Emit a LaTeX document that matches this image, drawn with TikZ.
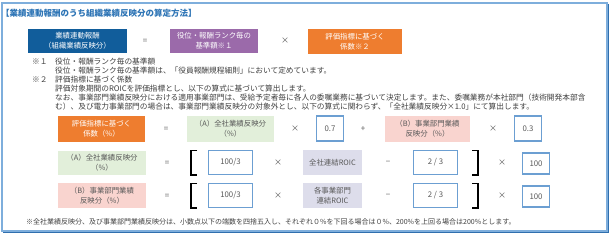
\documentclass[tikz,border=0pt]{standalone}
\usepackage{fontspec}
\setmainfont{Noto Sans CJK JP}
\definecolor{cdblue}{HTML}{115D9B}
\definecolor{cpurple}{HTML}{9B6AAA}
\definecolor{corange}{HTML}{EE7D2F}
\definecolor{cgreen}{HTML}{E2EFDA}
\definecolor{cpink}{HTML}{F9D4CF}
\definecolor{clav}{HTML}{DDDDEB}
\definecolor{cline}{HTML}{6C9FD2}
\definecolor{cborder}{HTML}{7EAEDC}
\definecolor{cshadow}{HTML}{2F6FAE}
\definecolor{ctitle}{HTML}{2E75B6}
\definecolor{ctext}{HTML}{404040}
\definecolor{cgray}{HTML}{595959}
\tikzset{
  bx/.style={rectangle, inner sep=0pt, align=center, font=\fontsize{7.4}{10}\selectfont, text=cgray},
  dark/.style={bx, fill=cdblue, text=white},
  purp/.style={bx, fill=cpurple, text=white},
  oran/.style={bx, fill=corange, text=white},
  grn/.style={bx, fill=cgreen},
  pnk/.style={bx, fill=cpink},
  lav/.style={bx, fill=clav},
  wbox/.style={bx, draw=cline, line width=1.1pt, fill=white, font=\fontsize{7.8}{10}\selectfont},
  op/.style={inner sep=0pt, text=cgray, font=\fontsize{8}{10}\selectfont},
  note/.style={inner sep=0pt, anchor=west, text=ctext, font=\fontsize{7.7}{9}\selectfont},
  brk/.style={draw=black, line width=1.3pt},
}
\begin{document}
\begin{tikzpicture}[x=1pt,y=-1pt]
\fill[white] (0,0) rectangle (610,234);
\useasboundingbox (0,0) rectangle (610,234);
% outer frame
\draw[cshadow, line width=1pt] (608,4) -- (608,232) -- (3,232);
\draw[cborder, line width=1.2pt] (2,3) rectangle (607,231);
% title
\node[inner sep=0pt, anchor=west, text=ctitle, font=\fontsize{8.5}{10}\selectfont\bfseries] (title) at (1,13) {【業績連動報酬のうち組織業績反映分の算定方法】};
% top row
\node[dark, minimum width=99pt, minimum height=24pt] (b1) at (77.5,41) {業績連動報酬\\（組織業績反映分）};
\node[op] (e0) at (145,41) {=};
\node[purp, minimum width=88pt, minimum height=24pt] (b2) at (214,41) {役位・報酬ランク毎の\\基準額※１};
\node[op] (m0) at (285,41) {×};
\node[oran, minimum width=94pt, minimum height=25pt] (b3) at (355,41.5) {評価指標に基づく\\係数※２};
% notes
\node[note] (n1a) at (32,62) {※１};
\node[note] (n1) at (55,62) {役位・報酬ランク毎の基準額};
\node[note] (n2) at (55,71) {役位・報酬ランク毎の基準額は、「役員報酬規程細則」において定めています。};
\node[note] (n3a) at (32,80) {※２};
\node[note] (n3) at (55,80) {評価指標に基づく係数};
\node[note] (n4) at (55,88.5) {評価対象期間のROICを評価指標とし、以下の算式に基づいて算出します。};
\node[note] (n5) at (55,97.5) {なお、事業部門業績反映分における適用事業部門は、受給予定者毎に各人の委嘱業務に基づいて決定します。また、委嘱業務が本社部門（技術開発本部含};
\node[note] (n6) at (55,106.5) {む）、及び電力事業部門の場合は、事業部門業績反映分の対象外とし、以下の算式に関わらず、「全社業績反映分×1.0」にて算出します。};
% row 1
\node[oran, minimum width=87pt, minimum height=26pt] (r1a) at (101.5,129) {評価指標に基づく\\係数（\%）};
\node[op] (r1e) at (166,129) {=};
\node[grn, minimum width=87pt, minimum height=26pt] (r1b) at (230.5,129) {（A）全社業績反映分\\（\%）};
\node[op] (r1m1) at (295,129) {×};
\node[wbox, minimum width=27pt, minimum height=25pt] (r1c) at (330,128.5) {0.7};
\node[op] (r1p) at (363,129) {+};
\node[pnk, minimum width=85pt, minimum height=26pt] (r1d) at (427.5,129) {（B）事業部門業績\\反映分（\%）};
\node[op] (r1m2) at (493,129) {×};
\node[wbox, minimum width=27pt, minimum height=25pt] (r1f) at (528,128.5) {0.3};
% row 2
\node[grn, minimum width=88pt, minimum height=24pt] (r2a) at (102,163) {（A）全社業績反映分\\（\%）};
\node[op] (r2e) at (167,163) {=};
\draw[brk] (197,150.5) -- (191,150.5) -- (191,175) -- (197,175);
\node[wbox, minimum width=44pt, minimum height=24pt] (r2b) at (230.5,162.5) {100/3};
\node[op] (r2m1) at (278,163) {×};
\node[lav, minimum width=59pt, minimum height=25pt] (r2c) at (332.5,162.5) {全社連結ROIC};
\node[op] (r2s) at (388,163) {−};
\node[wbox, minimum width=44pt, minimum height=24pt] (r2d) at (435.5,162.5) {2 / 3};
\draw[brk] (472,150.5) -- (478,150.5) -- (478,175) -- (472,175);
\node[op] (r2m2) at (502,163) {×};
\node[wbox, minimum width=27pt, minimum height=21pt] (r2f) at (536,163.5) {100};
% row 3
\node[pnk, minimum width=88pt, minimum height=25pt] (r3a) at (102,195.5) {（B）事業部門業績\\反映分（\%）};
\node[op] (r3e) at (167,196) {=};
\draw[brk] (197,183.5) -- (191,183.5) -- (191,208) -- (197,208);
\node[wbox, minimum width=44pt, minimum height=24pt] (r3b) at (230.5,195.5) {100/3};
\node[op] (r3m1) at (278,196) {×};
\node[lav, minimum width=59pt, minimum height=25pt] (r3c) at (332.5,195.5) {各事業部門\\連結ROIC};
\node[op] (r3s) at (388,196) {−};
\node[wbox, minimum width=44pt, minimum height=24pt] (r3d) at (435.5,195.5) {2 / 3};
\draw[brk] (472,183.5) -- (478,183.5) -- (478,208) -- (472,208);
\node[op] (r3m2) at (502,196) {×};
\node[wbox, minimum width=27pt, minimum height=21pt] (r3f) at (536,196.5) {100};
% footnote
\node[note, font=\fontsize{7}{9}\selectfont] (fn) at (26,222) {※全社業績反映分、及び事業部門業績反映分は、小数点以下の端数を四捨五入し、それぞれ０\%を下回る場合は０\%、200\%を上回る場合は200\%とします。};
\end{tikzpicture}
\end{document}
